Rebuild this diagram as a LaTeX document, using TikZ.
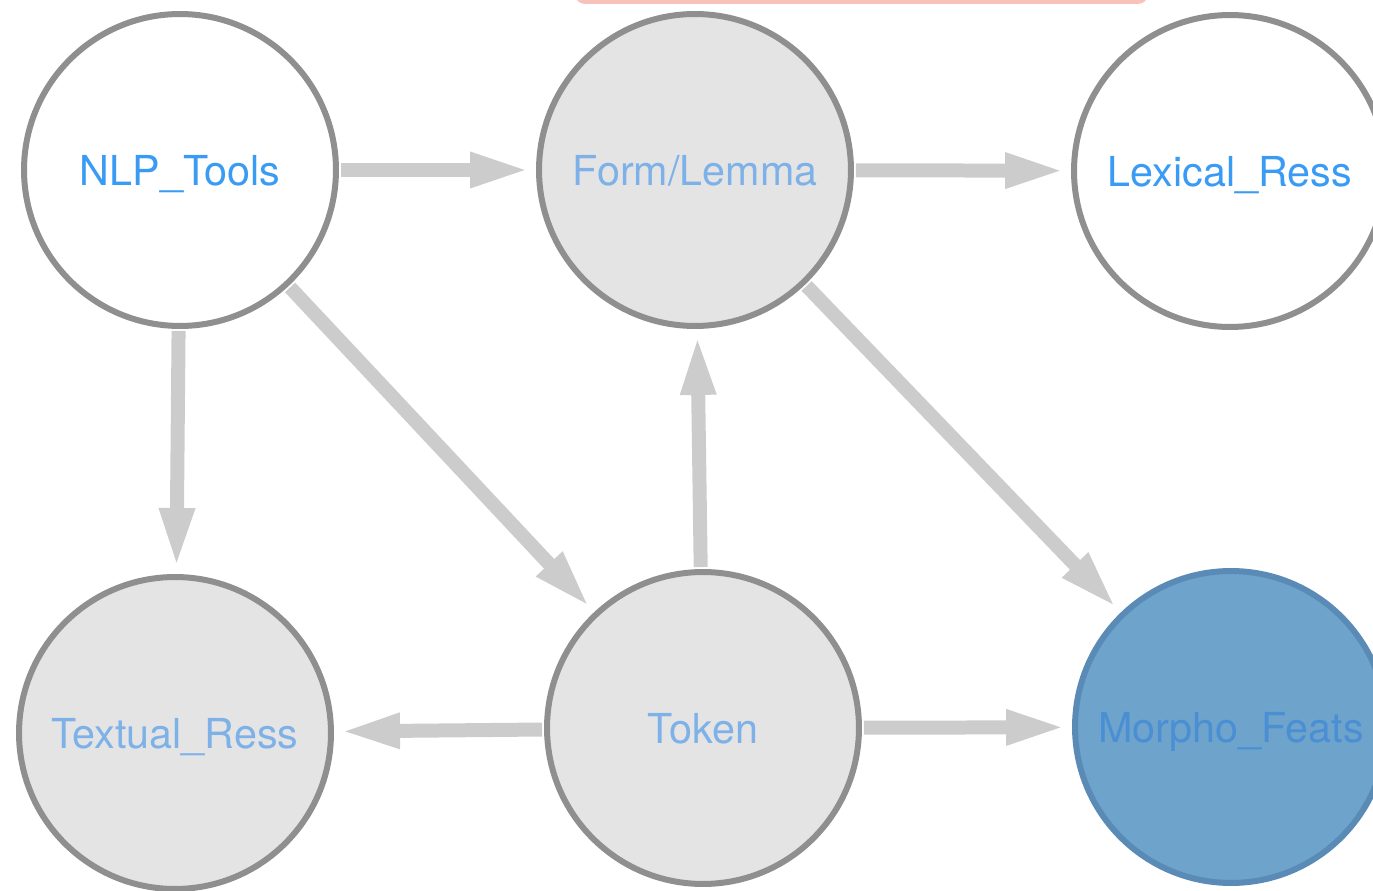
\documentclass[tikz,border=0pt]{standalone}
\usepackage{fontspec}
\setmainfont{TeX Gyre Heros}
\usetikzlibrary{arrows.meta}
\definecolor{ringgray}{HTML}{8F8F8F}
\definecolor{fillgray}{HTML}{E4E4E4}
\definecolor{linkgray}{HTML}{CCCCCC}
\definecolor{brightblue}{HTML}{3A9BF4}
\definecolor{paleblue}{HTML}{7DB1E8}
\definecolor{morphofill}{HTML}{6EA3CB}
\definecolor{morphoring}{HTML}{5A8BB6}
\definecolor{morphotext}{HTML}{4A8FD4}
\definecolor{pinkfill}{HTML}{F8C1B9}
\begin{document}
\begin{tikzpicture}[x=0.02cm, y=-0.02cm,
    ent/.style={circle, minimum size=6.24cm, line width=0.12cm, draw=ringgray,
        text height=21pt, text depth=3pt, font=\fontsize{23.5}{28}\selectfont},
    plain/.style={ent, fill=white, text=brightblue},
    shaded/.style={ent, fill=fillgray, text=paleblue},
    picked/.style={ent, fill=morphofill, draw=morphoring, text=morphotext},
    link/.style={draw=linkgray, line width=0.28cm,
        -{Triangle[length=1.2cm, width=0.64cm]}, shorten >=0.12cm, shorten <=0.04cm}]
    \useasboundingbox (0,0) rectangle (1373,891);
    \fill[pinkfill, rounded corners=0.2cm] (575,-40) rectangle (1148,4);
    \node[plain] (nlp) at (180,170) {NLP\_Tools};
    \node[shaded] (form) at (695,170) {Form/Lemma};
    \node[plain] (lex) at (1230,171) {Lexical\_Ress};
    \node[shaded] (text) at (175,733) {Textual\_Ress};
    \node[shaded] (tok) at (703,728) {Token};
    \node[picked] (morph) at (1231,727) {Morpho\_Feats};
    \draw[link] (nlp) -- (form);
    \draw[link] (form) -- (lex);
    \draw[link] (nlp) -- (text);
    \draw[link] (nlp) -- (tok);
    \draw[link] (tok) -- (form);
    \draw[link] (form) -- (morph);
    \draw[link] (tok) -- (text);
    \draw[link] (tok) -- (morph);
\end{tikzpicture}
\end{document}
